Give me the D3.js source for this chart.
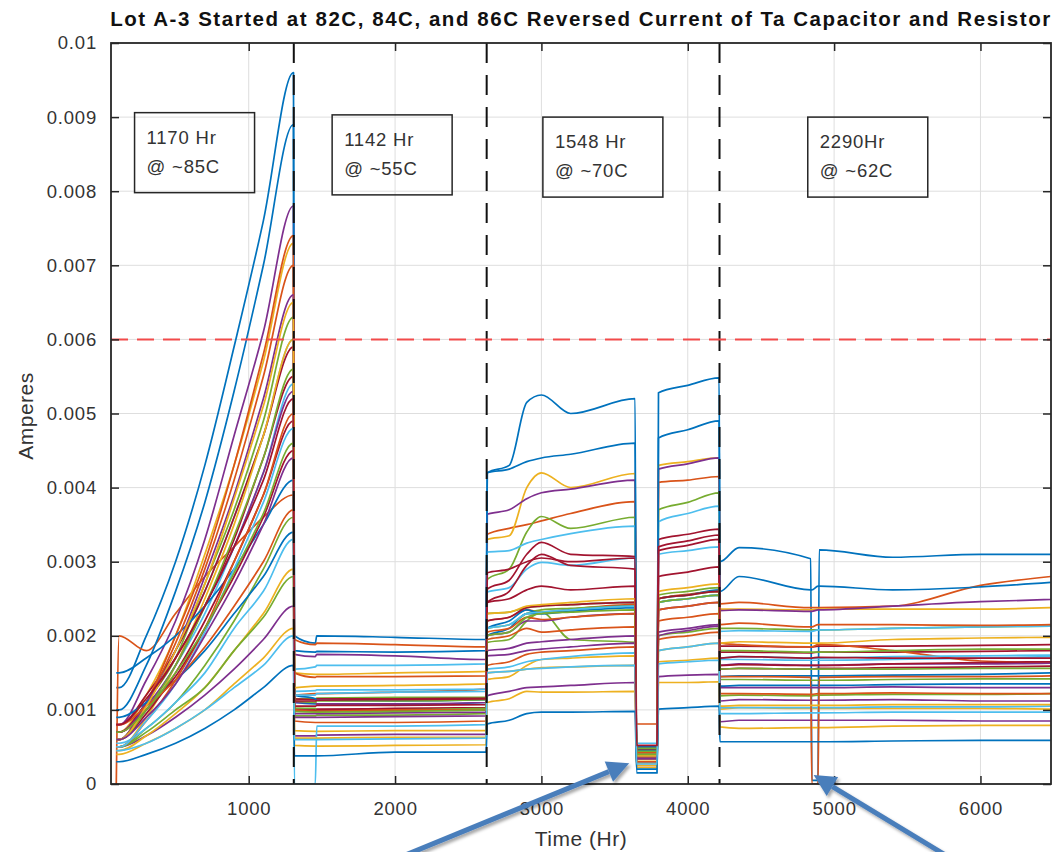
<!DOCTYPE html>
<html>
<head>
<meta charset="utf-8">
<script src="https://cdn.jsdelivr.net/npm/d3@7"></script>
<style>
  html, body { margin: 0; padding: 0; background: #fff; }
  svg { display: block; }
  text { font-family: 'Liberation Sans', Arial, Helvetica, sans-serif; }
</style>
</head>
<body>
<svg id="chart" width="1064" height="852"></svg>
<script>
// ---------------- DATA ----------------
const titleText = "Lot A-3 Started at 82C, 84C, and 86C Reversed Current of Ta Capacitor and Resistor";
const xLabel = "Time (Hr)";
const yLabel = "Amperes";
const xTicks = [1000, 2000, 3000, 4000, 5000, 6000];
const yTicks = [0, 0.001, 0.002, 0.003, 0.004, 0.005, 0.006, 0.007, 0.008, 0.009, 0.01];
const limitAmps = 0.006;
const phaseBoundsHr = [1308, 2626, 4217];
const phaseLabels = [["1170 Hr", "@ ~85C"], ["1142 Hr", "@ ~55C"], ["1548 Hr", "@ ~70C"], ["2290Hr", "@ ~62C"]];
const phaseLabelStartHr = [220, 1570, 3010, 4820];

// sample times (Hr) shared by every series
const timeHr = [95,115,300,500,700,900,1100,1306, 1312,1455,1465,2000,2622, 2630,2780,2900,3000,3200,3640, 3650,3790, 3800,4000,4214, 4220,4350,4840,4848,4890,4898,5400,6000,6480];

// reverse current of each part, in milliamps
const s01 = [1.3,1.3,2.0,3.0,4.3,5.9,7.6,9.6, 2.0,1.9,2.0,1.98,1.95, 4.2,4.3,5.15,5.25,5.0,5.2, 0.15,0.15, 5.28,5.38,5.48, 3.0,3.19,3.04,0.05,0.05,3.16,3.06,3.1,3.1];
const s02 = [0,2.0,1.8,2.3,2.8,3.2,3.6,3.9, 1.95,1.88,1.9,1.88,1.85, 3.37,3.45,3.5,3.55,3.65,3.81, 0.81,0.81, 4.07,4.1,4.15, 2.43,2.45,2.38,2.38,2.38,2.38,2.4,2.68,2.8];
const s03 = [0.7,0.7,1.2,2.0,3.1,4.3,5.7,7.3, 1.5,1.48,1.48,1.5,1.52, 3.3,3.35,4.0,4.2,4.0,4.19, 0.33,0.33, 4.3,4.35,4.4, 2.36,2.36,2.35,2.35,2.36,2.36,2.36,2.36,2.38];
const s04 = [0.8,0.8,1.4,2.2,3.3,4.7,6.1,7.8, 1.75,1.72,1.75,1.73,1.68, 3.64,3.7,3.85,3.93,3.98,4.1, 0.5,0.5, 4.25,4.32,4.4, 2.34,2.35,2.33,2.33,2.35,2.35,2.4,2.46,2.49];
const s05 = [0.6,0.6,1.1,1.7,2.7,3.7,4.9,6.3, 1.15,1.15,1.16,1.17,1.17, 2.76,2.9,3.4,3.61,3.45,3.6, 0.45,0.45, 3.7,3.8,3.93, 2.1,2.1,2.08,2.08,2.08,2.08,2.1,2.12,2.13];
const s06 = [0.7,0.7,1.1,1.8,2.6,3.6,4.7,6.0, 1.55,1.58,1.6,1.6,1.62, 3.13,3.15,3.25,3.3,3.38,3.48, 0.55,0.55, 3.54,3.65,3.75, 2.06,2.07,2.06,2.06,2.08,2.08,2.1,2.12,2.13];
const s07 = [0.8,0.8,1.2,1.8,2.6,3.6,4.7,5.9, 1.15,1.14,1.15,1.15,1.16, 2.63,2.75,3.1,3.26,3.1,3.07, 0.5,0.5, 3.3,3.37,3.44, 1.86,1.86,1.85,1.85,1.86,1.86,1.86,1.87,1.88];
const s08 = [1.0,1.0,1.6,2.6,3.8,5.3,7.0,8.9, 1.8,1.78,1.79,1.78,1.8, 4.2,4.25,4.35,4.4,4.45,4.6, 0.3,0.3, 4.67,4.78,4.9, 2.6,2.8,2.62,2.62,2.67,2.67,2.62,2.66,2.72];
const s09 = [0.6,0.6,1.1,2.0,3.0,4.3,5.8,7.4, 1.2,1.22,1.22,1.24,1.28, 2.2,2.25,2.35,2.32,2.36,2.42, 0.4,0.4, 2.5,2.56,2.6, 2.15,2.17,2.12,2.12,2.15,2.15,2.15,2.14,2.15];
const s10 = [0.5,0.5,0.9,1.6,2.5,3.5,4.7,6.0, 0.72,0.71,0.71,0.72,0.72, 1.41,1.45,1.6,1.68,1.7,1.73, 0.28,0.28, 1.8,1.85,1.9, 1.01,1.03,1.02,1.02,1.02,1.02,1.02,1.02,1.01];
const s11 = [0.5,0.5,0.65,0.9,1.2,1.55,1.95,2.4, 0.65,0.65,0.66,0.67,0.67, 1.19,1.25,1.3,1.31,1.33,1.37, 0.25,0.25, 1.45,1.47,1.48, 0.84,0.86,0.86,0.86,0.86,0.86,0.86,0.85,0.85];
const s12 = [0.5,0.5,0.75,1.1,1.6,2.2,2.9,3.6, 0.92,0.92,0.93,0.93,0.95, 1.91,1.95,2.2,2.32,1.95,1.91, 0.36,0.36, 2.0,2.05,2.1, 1.41,1.41,1.4,1.4,1.4,1.4,1.41,1.42,1.42];
const s13 = [0.6,0.6,1.0,1.6,2.3,3.2,4.2,5.4, 1.25,1.26,1.27,1.27,1.28, 2.59,2.65,2.9,2.99,2.95,3.05, 0.42,0.42, 3.1,3.15,3.2, 1.68,1.68,1.67,1.67,1.67,1.67,1.68,1.7,1.72];
const s14 = [0.7,0.7,1.1,1.7,2.4,3.3,4.4,5.5, 1.02,1.01,1.01,1.02,1.03, 2.45,2.6,2.95,3.1,2.95,2.9, 0.47,0.47, 3.2,3.28,3.36, 1.78,1.78,1.77,1.77,1.78,1.78,1.78,1.79,1.8];
const s15 = [1.5,1.5,1.7,2.0,2.4,2.9,3.5,4.1, 1.1,1.08,1.08,1.07,1.1, 2.0,2.1,2.3,2.3,2.35,2.4, 0.5,0.5, 2.5,2.55,2.62, 1.32,1.33,1.33,1.33,1.33,1.33,1.34,1.35,1.35];
const s16 = [0.6,0.6,1.1,1.9,2.9,4.1,5.5,7.0, 1.5,1.44,1.45,1.45,1.46, 1.95,2.0,2.1,2.05,2.08,2.12, 0.35,0.35, 2.2,2.25,2.3, 1.9,1.88,1.85,1.85,1.88,1.88,1.8,1.66,1.64];
const s17 = [0.45,0.45,0.65,0.95,1.3,1.8,2.3,2.9, 0.52,0.51,0.51,0.52,0.53, 1.1,1.15,1.25,1.24,1.24,1.25, 0.22,0.22, 1.37,1.37,1.38, 0.77,0.75,0.76,0.76,0.76,0.76,0.78,0.79,0.79];
const s18 = [0.6,0.6,1.1,1.8,2.8,3.9,5.2,6.6, 0.9,0.9,0.9,0.91,0.92, 1.73,1.75,1.8,1.82,1.85,1.9, 0.3,0.3, 2.0,2.07,2.13, 1.12,1.14,1.13,1.13,1.13,1.13,1.14,1.12,1.12];
const s19 = [0.5,0.5,0.7,1.0,1.3,1.8,2.25,2.8, 1.02,1.02,1.0,1.0,1.02, 2.1,2.15,2.3,2.35,2.37,2.4, 0.48,0.48, 2.55,2.6,2.65, 1.19,1.2,1.19,1.19,1.2,1.2,1.21,1.21,1.22];
const s20 = [0.55,0.55,0.75,1.1,1.5,2.1,2.6,3.3, 0,0,0.78,0.78,0.8, 1.55,1.58,1.65,1.68,1.72,1.77, 0.3,0.3, 1.8,1.85,1.9, 1.03,1.03,1.03,1.03,1.03,1.03,1.04,1.04,1.05];
const s21 = [0.6,0.6,0.95,1.5,2.2,3.0,3.9,4.9, 1.0,0.99,1.0,1.0,1.0, 2.45,2.5,2.62,2.67,2.62,2.67, 0.44,0.44, 2.8,2.86,2.93, 1.55,1.56,1.55,1.55,1.56,1.56,1.57,1.58,1.59];
const s22 = [0.9,0.9,1.1,1.4,1.8,2.3,2.8,3.4, 1.2,1.15,1.13,1.12,1.14, 2.1,2.2,2.35,2.3,2.33,2.38, 0.45,0.45, 2.45,2.5,2.55, 1.45,1.46,1.46,1.46,1.46,1.46,1.47,1.48,1.5];
const s23 = [0.5,0.5,0.85,1.4,2.1,3.0,3.9,5.0, 0.85,0.83,0.83,0.83,0.85, 1.6,1.65,1.75,1.78,1.8,1.85, 0.3,0.3, 1.95,2.0,2.05, 1.45,1.45,1.44,0,0,1.44,1.45,1.45,1.46];
const s24 = [0.4,0.4,0.55,0.75,1.0,1.35,1.7,2.1, 0.62,0.62,0.62,0.63,0.63, 1.5,1.52,1.55,1.57,1.58,1.6, 0.25,0.25, 1.65,1.67,1.7, 1.05,1.06,1.06,1.06,1.06,1.06,1.07,1.07,1.07];
const s25 = [0.7,0.7,1.05,1.6,2.4,3.2,4.2,5.3, 1.1,1.1,1.08,1.08,1.1, 2.0,2.05,2.2,2.2,2.25,2.3, 0.37,0.37, 2.35,2.4,2.45, 1.6,1.62,1.6,1.6,1.6,1.6,1.62,1.62,1.63];
const s26 = [0.6,0.6,1.0,1.6,2.4,3.35,4.4,5.6, 1.12,1.1,1.12,1.12,1.14, 2.3,2.32,2.38,2.4,2.42,2.45, 0.44,0.44, 2.5,2.55,2.6, 1.8,1.8,1.78,1.78,1.78,1.78,1.8,1.82,1.82];
const s27 = [0.5,0.5,0.85,1.35,2.05,2.9,3.8,4.8, 1.2,1.2,1.22,1.24,1.25, 2.1,2.15,2.3,2.32,2.35,2.4, 0.4,0.4, 2.45,2.5,2.55, 1.7,1.72,1.7,1.7,1.7,1.7,1.72,1.73,1.74];
const s28 = [0.7,0.7,1.0,1.45,2.1,2.8,3.6,4.5, 1.05,1.05,1.06,1.06,1.07, 2.2,2.25,2.38,2.4,2.42,2.45, 0.39,0.39, 2.5,2.55,2.6, 1.6,1.61,1.6,1.6,1.6,1.6,1.62,1.64,1.65];
const s29 = [0.3,0.3,0.4,0.55,0.75,1.0,1.3,1.6, 0.38,0.38,0.38,0.43,0.43, 0.81,0.86,0.95,0.97,0.97,0.98, 0.2,0.2, 1.01,1.03,1.05, 0.57,0.57,0.57,0.57,0.57,0.57,0.58,0.59,0.59];
const s30 = [0.8,0.8,1.05,1.4,1.85,2.4,3.0,3.7, 1.0,0.98,0.98,1.0,1.0, 2.05,2.1,2.25,2.22,2.25,2.3, 0.42,0.42, 2.35,2.4,2.45, 1.22,1.22,1.21,1.21,1.22,1.22,1.23,1.22,1.22];
const s31 = [0.6,0.6,1.05,1.8,2.7,3.85,5.1,6.5, 1.3,1.32,1.32,1.33,1.35, 2.3,2.32,2.4,2.42,2.45,2.5, 0.38,0.38, 2.6,2.65,2.7, 1.9,1.92,1.9,1.9,1.9,1.9,1.95,1.97,1.98];
const s32 = [0.6,0.6,0.9,1.35,2.0,2.7,3.5,4.4, 0.95,0.95,0.95,0.96,0.97, 1.8,1.83,1.9,1.92,1.95,2.0, 0.34,0.34, 2.05,2.1,2.15, 1.3,1.3,1.3,1.3,1.3,1.3,1.31,1.3,1.3];
const s33 = [0.7,0.7,1.0,1.5,2.1,2.85,3.65,4.6, 0.98,0.97,0.97,0.98,1.0, 2.0,2.05,2.25,2.3,2.32,2.35, 0.4,0.4, 2.45,2.5,2.55, 1.55,1.56,1.55,1.55,1.55,1.55,1.55,1.56,1.56];
const s34 = [0.45,0.45,0.55,0.75,1.0,1.3,1.6,2.0, 0.6,0.6,0.6,0.61,0.62, 1.5,1.52,1.55,1.56,1.58,1.6, 0.27,0.27, 1.62,1.65,1.67, 0.95,0.95,0.96,0.96,0.96,0.96,0.97,0.97,0.97];
const s35 = [0.8,0.8,1.15,1.7,2.4,3.2,4.1,5.2, 1.12,1.12,1.13,1.14,1.15, 2.85,2.9,3.0,3.05,3.0,3.05, 0.52,0.52, 3.15,3.22,3.3, 1.7,1.72,1.7,1.7,1.71,1.71,1.7,1.7,1.7];

const seriesMilliAmps = [s01,s02,s03,s04,s05,s06,s07,s08,s09,s10,s11,s12,s13,s14,s15,s16,s17,s18,s19,s20,s21,s22,s23,s24,s25,s26,s27,s28,s29,s30,s31,s32,s33,s34,s35];

// annotation arrows, in data units [time Hr, Amperes]
const arrowTails = [[2020, -0.00100], [5795, -0.00100]];
const arrowTips  = [[3600,  0.00028], [4860,  0.00012]];

// ---------------- STYLE / LAYOUT ----------------
const palette = ["#0072BD","#D95319","#EDB120","#7E2F8E","#77AC30","#4DBEEE","#A2142F"];
const axisColor = "#262626";
const plot = { left: 111, right: 1051, top: 43, bottom: 784 };

const svg = d3.select("#chart");
const x = d3.scaleLinear().domain([59, 6482]).range([plot.left, plot.right]);
const y = d3.scaleLinear().domain([0, 0.01]).range([plot.bottom, plot.top]);

// clip
svg.append("defs").append("clipPath").attr("id", "clip")
  .append("rect").attr("x", plot.left).attr("y", plot.top)
  .attr("width", plot.right - plot.left).attr("height", plot.bottom - plot.top);

const shadow = svg.select("defs").append("filter").attr("id", "shadow")
  .attr("x", "-20%").attr("y", "-20%").attr("width", "140%").attr("height", "140%");
shadow.append("feDropShadow").attr("dx", 2).attr("dy", 2.5).attr("stdDeviation", 1.6)
  .attr("flood-color", "#000").attr("flood-opacity", 0.35);

// grid
const grid = svg.append("g");
grid.selectAll("line.gx").data(xTicks).join("line")
  .attr("x1", d => x(d)).attr("x2", d => x(d))
  .attr("y1", plot.top).attr("y2", plot.bottom)
  .attr("stroke", "#dedede").attr("stroke-width", 1);
grid.selectAll("line.gy").data(yTicks.slice(1, -1)).join("line")
  .attr("x1", plot.left).attr("x2", plot.right)
  .attr("y1", d => y(d)).attr("y2", d => y(d))
  .attr("stroke", "#dedede").attr("stroke-width", 1);

// data lines
const line = d3.line()
  .x((d, i) => x(timeHr[i]))
  .y(d => y(d / 1000))
  .curve(d3.curveMonotoneX);

svg.append("g").attr("clip-path", "url(#clip)")
  .selectAll("path").data(seriesMilliAmps).join("path")
  .attr("d", d => line(d))
  .attr("fill", "none")
  .attr("stroke", (d, i) => palette[i % palette.length])
  .attr("stroke-width", 1.7)
  .attr("stroke-linejoin", "round");

// phase boundaries
svg.append("g").selectAll("line").data(phaseBoundsHr).join("line")
  .attr("x1", d => x(d)).attr("x2", d => x(d))
  .attr("y1", plot.top).attr("y2", plot.bottom)
  .attr("stroke", "#111").attr("stroke-width", 2)
  .attr("stroke-dasharray", "20,12");

// limit line
svg.append("line")
  .attr("x1", plot.left).attr("x2", plot.right)
  .attr("y1", y(limitAmps)).attr("y2", y(limitAmps))
  .attr("stroke", "#F24A4A").attr("stroke-width", 2)
  .attr("stroke-dasharray", "17,9");

// axes
const tickFont = 18.5;
const gx = svg.append("g").attr("transform", `translate(0,${plot.bottom})`)
  .call(d3.axisBottom(x).tickValues(xTicks).tickFormat(d3.format("d")).tickSize(-8).tickPadding(18));
const gy = svg.append("g").attr("transform", `translate(${plot.left},0)`)
  .call(d3.axisLeft(y).tickValues(yTicks).tickFormat(d3.format("~g")).tickSize(-8).tickPadding(14));
const gxt = svg.append("g").attr("transform", `translate(0,${plot.top})`)
  .call(d3.axisTop(x).tickValues(xTicks).tickFormat("").tickSize(-8));
const gyr = svg.append("g").attr("transform", `translate(${plot.right},0)`)
  .call(d3.axisRight(y).tickValues(yTicks).tickFormat("").tickSize(-8));
[gx, gy, gxt, gyr].forEach(g => {
  g.select(".domain").remove();
  g.selectAll(".tick line").attr("stroke", axisColor).attr("stroke-width", 1.5);
  g.selectAll(".tick text").attr("fill", "#333").attr("font-size", tickFont)
    .attr("letter-spacing", 0.8)
    .style("font-family", "'Liberation Sans', Arial, Helvetica, sans-serif");
});
svg.append("rect")
  .attr("x", plot.left).attr("y", plot.top)
  .attr("width", plot.right - plot.left).attr("height", plot.bottom - plot.top)
  .attr("fill", "none").attr("stroke", axisColor).attr("stroke-width", 1.8);

// labels
function fitWidth(sel, target) {
  const w = sel.node().getComputedTextLength();
  const n = sel.text().length;
  sel.attr("letter-spacing", (target - w) / (n - 1));
}
const title = svg.append("text")
  .attr("x", 581).attr("y", 26).attr("text-anchor", "middle")
  .attr("font-size", 20.5).attr("font-weight", "bold").attr("fill", "#111")
  .text(titleText);
fitWidth(title, 940);

const xl = svg.append("text")
  .attr("x", 581).attr("y", 846).attr("text-anchor", "middle")
  .attr("font-size", 21).attr("fill", "#333").text(xLabel);
fitWidth(xl, 92);

svg.append("text")
  .attr("transform", `translate(33,416) rotate(-90)`).attr("text-anchor", "middle")
  .attr("font-size", 21).attr("fill", "#333").attr("letter-spacing", 0.5).text(yLabel);

// phase annotation boxes
const boxW = 120, boxH = 80;
const boxTops = [0.00906, 0.00903, 0.00900, 0.00900];
const boxes = svg.append("g").selectAll("g").data(phaseLabels).join("g")
  .attr("transform", (d, i) => `translate(${x(phaseLabelStartHr[i])},${y(boxTops[i])})`);
boxes.append("rect").attr("width", boxW).attr("height", boxH)
  .attr("fill", "none").attr("stroke", axisColor).attr("stroke-width", 1.5);
boxes.append("text").attr("x", 12).attr("y", 31).attr("font-size", tickFont)
  .attr("letter-spacing", 0.8).attr("fill", "#333").text(d => d[0]);
boxes.append("text").attr("x", 12).attr("y", 60).attr("font-size", tickFont)
  .attr("letter-spacing", 0.8).attr("fill", "#333").text(d => d[1]);

// arrows
const arrowColor = "#4A7EBB";
const arrows = svg.append("g").attr("filter", "url(#shadow)");
arrowTails.forEach((tail, i) => {
  const tip = arrowTips[i];
  const x0 = x(tail[0]), y0 = y(tail[1]), x1 = x(tip[0]), y1 = y(tip[1]);
  const ang = Math.atan2(y1 - y0, x1 - x0);
  const headLen = 22, headHalf = 11;
  const bx = x1 - headLen * Math.cos(ang), by = y1 - headLen * Math.sin(ang);
  arrows.append("line").attr("x1", x0).attr("y1", y0).attr("x2", bx).attr("y2", by)
    .attr("stroke", arrowColor).attr("stroke-width", 5);
  const px = -Math.sin(ang), py = Math.cos(ang);
  arrows.append("path")
    .attr("d", `M${x1},${y1} L${bx + px * headHalf},${by + py * headHalf} L${bx - px * headHalf},${by - py * headHalf} Z`)
    .attr("fill", arrowColor);
});
</script>
</body>
</html>
